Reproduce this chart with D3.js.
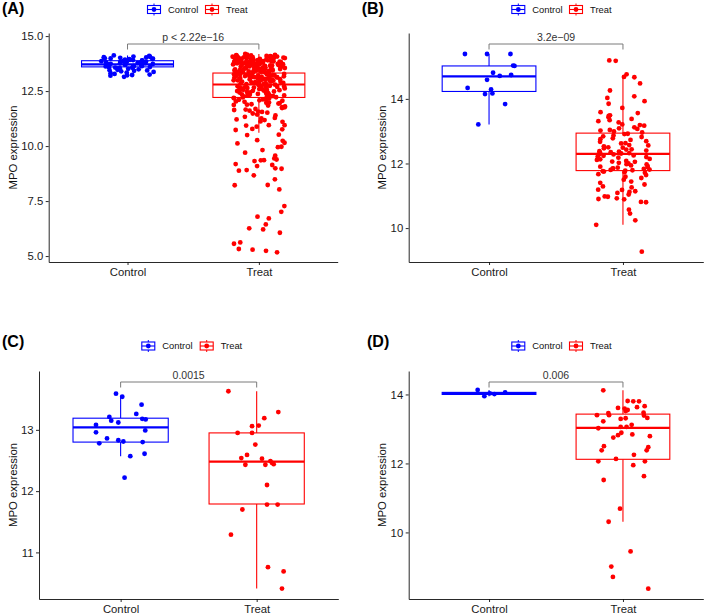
<!DOCTYPE html>
<html>
<head>
<meta charset="utf-8">
<script src="https://cdn.jsdelivr.net/npm/d3@7"></script>
<style>
  body { margin: 0; background: #fff; }
  svg { display: block; font-family: "Liberation Sans", Arial, sans-serif; }
</style>
</head>
<body>
<div class="canvas"></div>
<script>
const groups = ["Control", "Treat"];
const colors = ["#0000ff", "#ff0000"];

// (A)
const aControl = [14.12, 14.10, 14.07, 14.06, 14.04, 14.03, 14.01, 14.00, 13.99, 13.97, 13.96, 13.95, 13.93, 13.92, 13.91, 13.89,
  13.88, 13.87, 13.85, 13.84, 13.83, 13.81, 13.80, 13.79, 13.77, 13.76, 13.74, 13.73, 13.72, 13.70, 13.69, 13.67, 13.66, 13.64,
  13.63, 13.62, 13.60, 13.59, 13.57, 13.56, 13.54, 13.53, 13.51, 13.49, 13.47, 13.45, 13.44, 13.42, 13.40, 13.37, 13.34, 13.31,
  13.28, 13.25, 13.23, 13.22, 13.20, 13.15, 13.98, 13.86, 13.78, 13.68, 13.58];
const aTreat = [14.19, 14.16, 14.12, 14.11, 14.09, 14.07, 14.06, 14.04, 14.03, 14.03, 14.01, 13.99, 13.98, 13.96, 13.96, 13.94,
  13.93, 13.91, 13.90, 13.88, 13.87, 13.87, 13.85, 13.84, 13.82, 13.81, 13.79, 13.78, 13.77, 13.75,
  14.14, 14.08, 14.02, 13.97, 13.92, 13.86, 13.83, 13.76, 13.74, 13.71, 13.69, 13.68, 13.66, 13.64, 13.63, 13.61, 13.59, 13.58,
  13.56, 13.55, 13.53, 13.52, 13.50, 13.48, 13.47, 13.45, 13.44, 13.42, 13.41, 13.39,
  14.05, 14.00, 13.95, 13.89, 13.80, 13.73, 13.67, 13.62, 13.57, 13.51, 13.46, 13.38, 13.37, 13.35, 13.34, 13.32, 13.31, 13.29,
  13.28, 13.26, 13.25, 13.23, 13.22, 13.20, 13.19, 13.17, 13.16, 13.14, 13.13, 13.11,
  14.10, 14.04, 13.97, 13.91, 13.84, 13.78, 13.72, 13.65, 13.60, 13.54, 13.49, 13.43, 13.36, 13.30, 13.24, 13.18, 13.10, 13.08,
  13.07, 13.05, 13.04, 13.02, 13.01, 12.99, 12.98, 12.96, 12.95, 12.93, 12.91, 12.90,
  14.13, 14.06, 13.99, 13.93, 13.86, 13.81, 13.74, 13.70, 13.62, 13.56, 13.50, 13.44, 13.40, 13.33, 13.27, 13.21, 13.15, 13.09,
  13.03, 12.97, 12.88, 12.86, 12.85, 12.83, 12.82, 12.80, 12.78, 12.77, 12.75, 12.74,
  13.98, 13.90, 13.82, 13.76, 13.67, 13.58, 13.48, 13.39, 13.28, 13.19, 13.12, 13.06, 12.94, 12.87, 12.79, 12.72, 12.71, 12.69,
  12.67, 12.66, 12.64, 12.62, 12.61, 12.59, 12.57, 12.55, 12.54, 12.52, 12.50, 12.48,
  13.88, 13.71, 13.55, 13.40, 13.26, 13.13, 12.99, 12.84, 12.73, 12.63, 12.56, 12.46, 12.44, 12.43, 12.41, 12.39, 12.37, 12.35,
  12.33, 12.32, 12.30, 12.28, 12.26, 12.24, 12.22, 12.21, 12.19, 12.17, 12.15, 12.12,
  13.79, 13.47, 13.21, 12.92, 12.68, 12.51, 12.38, 12.27, 12.18, 12.10, 12.08, 12.06, 12.03, 12.01, 11.98, 11.95, 11.93, 11.90,
  11.87, 11.84, 11.80, 11.77, 11.73, 11.69, 11.66, 11.61, 11.57, 11.52, 11.48, 11.43,
  13.63, 13.02, 12.58, 12.29, 12.13, 11.97, 11.88, 11.76, 11.64, 11.55, 11.39, 11.33, 11.28, 11.21,
  11.10, 10.95, 10.76, 10.73, 10.50, 10.88, 10.95, 10.93, 10.78, 11.26, 11.18, 11.12, 10.52, 10.12, 10.27, 10.15, 10.24, 9.70,
  9.97, 9.82, 9.95, 9.44, 9.32, 9.56, 9.36, 9.18, 9.35, 9.39, 9.14, 9.09, 8.91, 8.99, 8.88, 8.97, 8.49, 8.67, 8.23, 8.22, 8.03,
  7.27, 7.01, 6.79, 6.71, 6.44, 6.06, 6.26, 6.21, 5.62, 5.56, 5.32, 5.29, 5.24, 5.17];
const aBoxControl = [13.15, 13.60, 13.71, 13.88, 14.12];
const aBoxTreat = [10.6, 12.21, 12.80, 13.32, 14.19];
const aTicks = [5, 7.5, 10, 12.5, 15];
const aP = "p < 2.22e\u221216";

// (B)
const bControl = [15.39, 15.39, 15.39, 15.03, 15.02, 14.81, 14.71, 14.74, 14.59, 14.34, 14.29, 14.17, 14.15, 13.84, 13.21];
const bControlJit = [-0.18, -0.015, 0.16, 0.18, 0.19, 0.03, 0.08, 0.165, -0.015, -0.16, 0.015, 0.025, -0.03, 0.12, -0.08];
const bTreat = [15.19, 15.18, 14.76, 14.68, 14.67, 14.48, 14.26, 14.08, 14.03, 13.93, 13.85, 13.72, 13.59, 13.56, 13.49,
  13.47, 13.43, 13.38, 13.34, 13.31, 13.27, 13.21, 13.19, 13.17, 13.12, 13.09, 13.07, 13.04, 13.02, 12.99, 12.96,
  12.92, 12.91, 12.87, 12.84, 12.82, 12.78, 12.75, 12.73, 12.69, 12.67, 12.63, 12.62, 12.57, 12.56, 12.53, 12.50, 12.49,
  12.47, 12.44, 12.43, 12.40, 12.38, 12.37, 12.35, 12.34, 12.32, 12.31, 12.29, 12.28, 12.27,
  12.25, 12.24, 12.21, 12.20, 12.18, 12.14, 12.13, 12.11, 12.08, 12.06, 12.05, 12.02, 12.00, 11.98, 11.97, 11.94, 11.92,
  11.90, 11.88, 11.87, 11.85, 11.84, 11.83, 11.81, 11.80, 11.79, 11.78, 11.76, 11.75, 11.73,
  11.71, 11.67, 11.64, 11.59, 11.55, 11.50, 11.44, 11.40, 11.35, 11.29, 11.26, 11.19, 11.18, 11.14, 11.12, 11.09, 11.04,
  10.98, 10.97, 10.92, 10.90, 10.89, 10.81, 10.80, 10.57, 10.45, 10.24, 10.10, 9.27];
const bBoxControl = [13.21, 14.23, 14.70, 15.02, 15.39];
const bBoxTreat = [10.10, 11.78, 12.30, 12.94, 14.67];
const bTicks = [10, 12, 14];
const bP = "3.2e\u221209";

// (C)
const cControl = [13.59, 13.54, 13.41, 13.26, 13.21, 13.15, 13.12, 13.18, 13.17, 13.08, 12.99, 12.96, 12.86, 12.83,
  12.81, 12.78, 12.80, 12.61, 12.57, 12.22];
const cControlJit = [-0.034, 0.012, 0.154, 0.115, -0.083, -0.069, -0.017, 0.159, 0.184, -0.181, 0.181, -0.181, -0.1,
  -0.017, 0.02, -0.157, 0.162, 0.176, 0.071, 0.029];
const cTreat = [13.63, 13.29, 13.19, 13.06, 13.07, 12.95, 12.95, 12.76, 12.59, 12.54, 12.53, 12.43, 12.43, 12.49, 12.46,
  12.44, 12.10, 11.78, 11.78, 11.70, 11.29, 10.76, 10.69, 10.41];
const cTreatJit = [-0.208, 0.159, 0.056, -0.034, 0.015, -0.140, -0.034, -0.010, -0.071, -0.113, 0.039, -0.083, 0.064,
  0.101, 0.113, 0.125, 0.076, 0.076, 0.154, -0.105, -0.189, 0.083, 0.198, 0.186];
const cBoxControl = [12.57, 12.80, 13.04, 13.19, 13.56];
const cBoxTreat = [10.41, 11.79, 12.48, 12.95, 13.63];
const cTicks = [11, 12, 13];
const cP = "0.0015";

// (D)
const dControl = [14.13, 13.95, 14.06, 14.03, 14.01];
const dControlJit = [-0.085, -0.035, 0.12, 0.005, 0.04];
const dTreat = [14.12, 13.81, 13.80, 13.80, 13.61, 13.63, 13.66, 13.59, 13.55, 13.52, 13.40, 13.46, 13.40, 13.47, 13.39,
  13.29, 13.31, 13.32, 13.22, 13.02, 13.06, 13.06, 13.12, 12.89, 12.82, 12.75, 12.84, 12.79, 12.50, 12.38, 12.47, 12.38,
  12.25, 12.13, 12.06, 12.06, 11.95, 11.63, 11.52, 10.69, 10.31, 9.45, 9.01, 8.71, 8.37];
const dTreatJit = [-0.147, 0.035, 0.077, 0.120, -0.037, 0.105, 0.162, 0.012, 0.035, 0.020, -0.194, -0.109, -0.104, 0.154,
  0.157, -0.017, 0.020, 0.182, -0.147, -0.184, -0.017, 0.027, 0.065, -0.012, -0.037, -0.072, 0.070, 0.201, -0.142,
  -0.159, 0.189, 0.177, 0.082, -0.052, -0.184, 0.164, 0.077, 0.157, -0.144, -0.022, -0.107, 0.057, -0.087, -0.075, 0.189];
const dBoxControl = [13.95, 14.00, 14.03, 14.06, 14.13];
const dBoxTreat = [10.31, 12.12, 13.03, 13.43, 14.12];
const dTicks = [10, 12, 14];
const dP = "0.006";

// seeded jitter like geom_jitter (x offsets only)
const jitter = (seed, n) => {
  const rnd = d3.randomUniform.source(d3.randomLcg(seed))(-0.2, 0.2);
  return d3.range(n).map(() => rnd());
};

const panels = [
  { tag: "(A)", tagX: 2, tagY: 13.6, left: 48.7, right: 337.7, top: 33, bottom: 262, yTitleX: 16.7,
    domain: [4.73, 15.14], ticks: aTicks, fmt: d3.format(".1f"), p: aP,
    values: [aControl, aTreat], jit: [jitter(7, aControl.length), jitter(11, aTreat.length)],
    box: [aBoxControl, aBoxTreat], legY: 9.5, keyX: [154, 212], textX: [168, 226] },
  { tag: "(B)", tagX: 361.7, tagY: 13.6, left: 408.7, right: 703.3, top: 33, bottom: 262, yTitleX: 386.3,
    domain: [8.95, 16.04], ticks: bTicks, fmt: d3.format("d"), p: bP,
    values: [bControl, bTreat], jit: [bControlJit, jitter(23, bTreat.length)],
    box: [bBoxControl, bBoxTreat], legY: 9.5, keyX: [518.3, 576], textX: [532.3, 590] },
  { tag: "(C)", tagX: 2, tagY: 346.6, left: 39, right: 338.3, top: 371, bottom: 599, yTitleX: 16.7,
    domain: [10.24, 13.96], ticks: cTicks, fmt: d3.format("d"), p: cP,
    values: [cControl, cTreat], jit: [cControlJit, cTreatJit],
    box: [cBoxControl, cBoxTreat], legY: 346, keyX: [148.3, 206.7], textX: [162.3, 220.7] },
  { tag: "(D)", tagX: 367, tagY: 346.6, left: 408.7, right: 703.3, top: 371, bottom: 599, yTitleX: 386.3,
    domain: [8.07, 14.68], ticks: dTicks, fmt: d3.format("d"), p: dP,
    values: [dControl, dTreat], jit: [dControlJit, dTreatJit],
    box: [dBoxControl, dBoxTreat], legY: 346, keyX: [518.3, 576], textX: [532.3, 590] }
];

const svg = d3
  .select(".canvas")
  .append("svg")
  .attr("width", 709)
  .attr("height", 614);

svg.append("rect").attr("width", 709).attr("height", 614).attr("fill", "#fff");

const drawPanel = (p) => {
  const g = svg.append("g");

  // scales (ggplot discrete axis: 0.6 expansion on each side)
  const x = d3.scalePoint().domain(groups).range([p.left, p.right]).padding(0.6);
  const y = d3.scaleLinear().domain(p.domain).range([p.bottom, p.top]);
  const boxW = x.step() * 0.7;
  const jitW = x.step();

  // axes
  const yAxis = g.append("g")
    .attr("transform", `translate(${p.left},0)`)
    .call(d3.axisLeft(y).tickValues(p.ticks).tickFormat(p.fmt).tickSize(3).tickSizeOuter(0).tickPadding(2.5));
  const xAxis = g.append("g")
    .attr("transform", `translate(0,${p.bottom})`)
    .call(d3.axisBottom(x).tickSize(3).tickSizeOuter(0).tickPadding(2.5));
  [yAxis, xAxis].forEach((ax) => {
    ax.select(".domain").attr("stroke", "#111").attr("stroke-width", 0.9);
    ax.selectAll(".tick line").attr("stroke", "#111").attr("stroke-width", 0.9);
    ax.selectAll("text").attr("fill", "#1a1a1a").attr("font-size", 11.3)
      .attr("font-family", "'Liberation Sans', Arial, sans-serif");
  });

  // y title
  g.append("text")
    .attr("transform", `translate(${p.yTitleX},${(p.top + p.bottom) / 2}) rotate(-90)`)
    .attr("text-anchor", "middle")
    .attr("font-size", 11.4)
    .attr("fill", "#111")
    .text("MPO expression");

  // boxes
  groups.forEach((grp, i) => {
    const [lo, q1, med, q3, hi] = p.box[i];
    const cx = x(grp);
    const bg = g.append("g").attr("stroke", colors[i]).attr("fill", "none");
    bg.append("line").attr("x1", cx).attr("x2", cx).attr("y1", y(q3)).attr("y2", y(hi)).attr("stroke-width", 1.1);
    bg.append("line").attr("x1", cx).attr("x2", cx).attr("y1", y(q1)).attr("y2", y(lo)).attr("stroke-width", 1.1);
    bg.append("rect")
      .attr("x", cx - boxW / 2).attr("width", boxW)
      .attr("y", y(q3)).attr("height", Math.max(0.5, y(q1) - y(q3)))
      .attr("fill", "#fff").attr("stroke-width", 1.1);
    bg.append("line")
      .attr("x1", cx - boxW / 2).attr("x2", cx + boxW / 2)
      .attr("y1", y(med)).attr("y2", y(med)).attr("stroke-width", 2.2);
  });

  // jittered points
  groups.forEach((grp, i) => {
    g.append("g")
      .selectAll("circle")
      .data(p.values[i])
      .enter()
      .append("circle")
      .attr("cx", (d, k) => x(grp) + p.jit[i][k] * jitW)
      .attr("cy", (d) => y(d))
      .attr("r", 2.4)
      .attr("fill", colors[i]);
  });

  // comparison bracket
  const by = p.top + 11;
  g.append("path")
    .attr("d", `M${x("Control")},${by + 5.5}V${by}H${x("Treat")}V${by + 5.5}`)
    .attr("fill", "none")
    .attr("stroke", "#7a7a7a")
    .attr("stroke-width", 1);
  g.append("text")
    .attr("x", (x("Control") + x("Treat")) / 2)
    .attr("y", by - 2.8)
    .attr("text-anchor", "middle")
    .attr("font-size", 10.5)
    .attr("fill", "#333")
    .text(p.p);

  // panel tag
  g.append("text")
    .attr("x", p.tagX)
    .attr("y", p.tagY)
    .attr("font-size", 16)
    .attr("font-weight", "bold")
    .attr("fill", "#000")
    .text(p.tag);

  // legend
  groups.forEach((grp, i) => {
    const kx = p.keyX[i];
    const ky = p.legY;
    const lg = g.append("g").attr("stroke", colors[i]).attr("fill", "none");
    lg.append("line").attr("x1", kx).attr("x2", kx).attr("y1", ky - 6).attr("y2", ky + 6).attr("stroke-width", 1);
    lg.append("rect").attr("x", kx - 6.5).attr("y", ky - 4).attr("width", 13).attr("height", 8)
      .attr("fill", "#fff").attr("stroke-width", 1.1);
    lg.append("line").attr("x1", kx - 6.5).attr("x2", kx + 6.5).attr("y1", ky).attr("y2", ky).attr("stroke-width", 1.1);
    g.append("circle").attr("cx", kx).attr("cy", ky).attr("r", 2.4).attr("fill", colors[i]);
    g.append("text")
      .attr("x", p.textX[i])
      .attr("y", ky + 3.4)
      .attr("font-size", 9.4)
      .attr("fill", "#111")
      .text(grp);
  });
};

panels.forEach(drawPanel);
</script>
</body>
</html>
